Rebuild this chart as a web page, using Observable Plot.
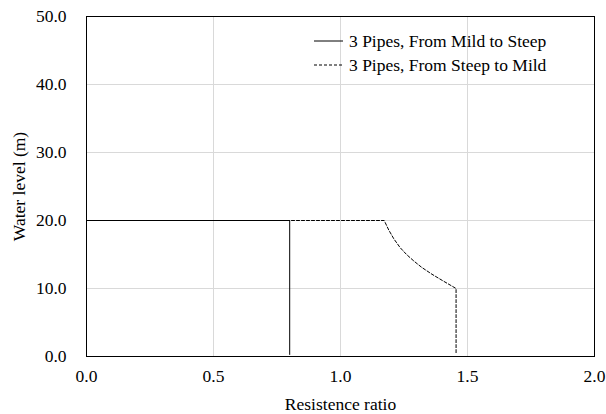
<!DOCTYPE html>
<html>
<head>
<meta charset="utf-8">
<script src="https://cdn.jsdelivr.net/npm/d3@7"></script>
<script src="https://cdn.jsdelivr.net/npm/@observablehq/plot@0.6"></script>
<style>
  html, body { margin: 0; padding: 0; background: #fff; }
  #wrap { position: relative; width: 606px; height: 414px; }
  #legend { position: absolute; left: 314px; top: 29px; font-size: 17.5px; color: #000; }
  #legend .row { display: flex; align-items: center; height: 24px; }
  #legend svg { margin-right: 6px; }
  #wrap, #wrap svg text, #legend { font-family: "Liberation Serif", "Times New Roman", Times, Tinos, "DejaVu Serif", "Noto Serif", serif; }
</style>
</head>
<body>
<div id="wrap"></div>
<script>
const seriesNames = ["3 Pipes, From Mild to Steep", "3 Pipes, From Steep to Mild"];
const mildToSteepX = [0, 0.80, 0.80];
const mildToSteepY = [20, 20, 0.3];
const steepToMildX = [0, 1.172, 1.19, 1.21, 1.235, 1.26, 1.29, 1.32, 1.36, 1.40, 1.455, 1.455];
const steepToMildY = [20, 20, 18.6, 17.3, 16.0, 15.0, 14.0, 13.1, 12.1, 11.2, 10.0, 0.3];
const xTicks = [0, 0.5, 1.0, 1.5, 2.0];
const yTicks = [0, 10, 20, 30, 40, 50];

const solid = mildToSteepX.map((x, i) => ({x, y: mildToSteepY[i]}));
const dashed = steepToMildX.map((x, i) => ({x, y: steepToMildY[i]}));

const serif = '"Liberation Serif", "Times New Roman", Times, Tinos, "DejaVu Serif", "Noto Serif", serif';

const chart = Plot.plot({
  width: 606,
  height: 414,
  marginLeft: 86,
  marginRight: 12,
  marginTop: 16,
  marginBottom: 58,
  style: { fontFamily: serif, fontSize: "17.5px", color: "#000", background: "#fff" },
  x: { domain: [0, 2], ticks: xTicks, tickFormat: d3.format(".1f") },
  y: { domain: [0, 50], ticks: yTicks, tickFormat: d3.format(".1f") },
  marks: [
    Plot.gridX(xTicks, { stroke: "#d9d9d9", strokeOpacity: 1 }),
    Plot.gridY(yTicks, { stroke: "#d9d9d9", strokeOpacity: 1 }),
    Plot.line(dashed, { x: "x", y: "y", stroke: "#000", strokeWidth: 1, strokeDasharray: "3,2" }),
    Plot.line(solid, { x: "x", y: "y", stroke: "#000", strokeWidth: 1 }),
    Plot.frame({ stroke: "#000", strokeWidth: 1 }),
    Plot.axisX(xTicks, { tickSize: 0, tickPadding: 13, tickFormat: d3.format(".1f"), label: "Resistence ratio", labelAnchor: "center", labelArrow: "none", labelOffset: 53, fontSize: 17.5 }),
    Plot.axisY(yTicks, { tickSize: 0, tickPadding: 20, tickFormat: d3.format(".1f"), label: "Water level (m)", labelAnchor: "center", labelArrow: "none", labelOffset: 74, fontSize: 17.5 })
  ]
});

const wrap = document.getElementById("wrap");
wrap.appendChild(chart);

const legend = document.createElement("div");
legend.id = "legend";
const dashes = ["", "3,2"];
seriesNames.forEach((name, i) => {
  const row = document.createElement("div");
  row.className = "row";
  row.innerHTML = `<svg width="29" height="4"><line x1="0" x2="29" y1="2" y2="2" stroke="#000" stroke-width="1" ${dashes[i] ? `stroke-dasharray="${dashes[i]}"` : ""}/></svg><span>${name}</span>`;
  legend.appendChild(row);
});
wrap.appendChild(legend);
</script>
</body>
</html>
